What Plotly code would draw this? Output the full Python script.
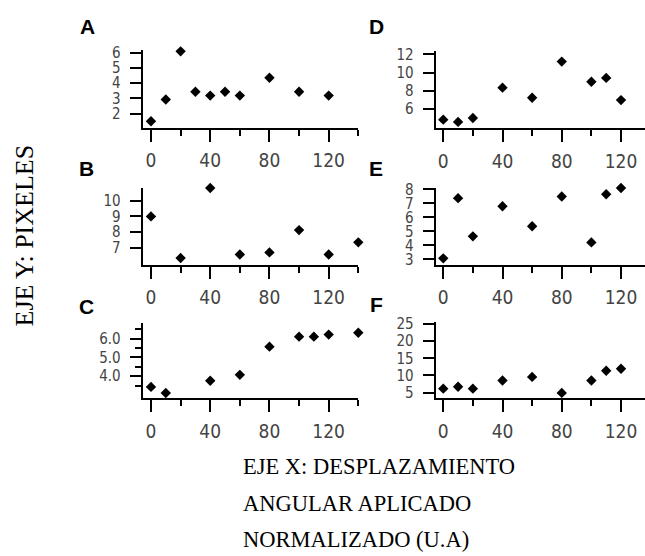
import plotly.graph_objects as go

# ---- data ----
x_A = [0, 10, 20, 30, 40, 50, 60, 80, 100, 120]
y_A = [1.49, 2.92, 6.09, 3.43, 3.18, 3.43, 3.18, 4.35, 3.43, 3.18]
x_B = [0, 20, 40, 60, 80, 100, 120, 140]
y_B = [9.0, 6.35, 10.81, 6.58, 6.71, 8.13, 6.58, 7.35]
x_C = [0, 10, 20, 40, 60, 80, 100, 110, 120, 140]
y_C = [3.43, 3.11, 6.85, 3.76, 4.07, 5.57, 6.10, 6.10, 6.21, 6.31]
x_D = [0, 10, 20, 40, 60, 80, 100, 110, 120, 140]
y_D = [4.86, 4.61, 5.04, 8.36, 7.25, 11.21, 9.0, 9.43, 7.0, 12.36]
x_E = [0, 10, 20, 40, 60, 80, 100, 110, 120, 140]
y_E = [3.07, 7.37, 4.64, 6.79, 5.36, 7.49, 4.21, 7.65, 8.09, 6.36]
x_F = [0, 10, 20, 40, 60, 80, 100, 110, 120, 140]
y_F = [6.14, 6.71, 6.14, 8.52, 9.57, 4.90, 8.52, 11.38, 11.95, 25.3]

x_ticks = [0, 40, 80, 120]
x_minor = [20, 60, 100, 140]
yt_A = [2, 3, 4, 5, 6]
yt_B = [7, 8, 9, 10]
yt_C = [4, 5, 6]
yt_C_text = ["4.0", "5.0", "6.0"]
yt_C_minor = [3.5, 4.5, 5.5, 6.5]
yt_D = [6, 8, 10, 12]
yt_E = [3, 4, 5, 6, 7, 8]
yt_F = [5, 10, 15, 20, 25]

panel_labels = ["A", "B", "C", "D", "E", "F"]
y_title = "EJE Y: PIXELES"
x_title_lines = ["EJE X: DESPLAZAMIENTO", "ANGULAR APLICADO", "NORMALIZADO (U.A)"]

W, H = 645, 556
NARROW = "Liberation Sans Narrow, Arial Narrow, DejaVu Sans Condensed, Liberation Sans, sans-serif"
XTICKFONT = dict(family=NARROW, size=19, color="#444")
YTICKFONT = dict(family=NARROW, size=15, color="#444")


def px_x(p):
    return p / W


def px_y(p):
    return 1 - p / H


def xax(d0, d1, rng, anchor):
    return dict(domain=[px_x(d0), px_x(d1)], range=rng, anchor=anchor,
                showline=True, linecolor="black", linewidth=2,
                ticks="outside", ticklen=12, tickwidth=2, tickcolor="black",
                tickvals=x_ticks, showgrid=False, zeroline=False,
                tickfont=XTICKFONT, ticklabelstandoff=3,
                minor=dict(tickvals=x_minor, ticks="outside", ticklen=6,
                           tickwidth=2, tickcolor="black", showgrid=False))


def yax(t0, t1, rng, anchor, tv, tt=None, mv=None):
    d = dict(domain=[px_y(t1), px_y(t0)], range=rng, anchor=anchor,
             showline=True, linecolor="black", linewidth=2,
             ticks="outside", ticklen=11, tickwidth=2, tickcolor="black",
             tickvals=tv, showgrid=False, zeroline=False,
             tickfont=YTICKFONT, ticklabelstandoff=6)
    if tt is not None:
        d["ticktext"] = tt
    if mv is not None:
        d["minor"] = dict(tickvals=mv, ticks="outside", ticklen=6,
                          tickwidth=2, tickcolor="black", showgrid=False)
    return d


fig = go.Figure()
series = [(x_A, y_A), (x_B, y_B), (x_C, y_C), (x_D, y_D), (x_E, y_E), (x_F, y_F)]
for i, (xs, ys) in enumerate(series):
    n = "" if i == 0 else str(i + 1)
    fig.add_trace(go.Scatter(x=xs, y=ys, mode="markers", xaxis="x" + n, yaxis="y" + n,
                             marker=dict(symbol="diamond", size=8, color="black"),
                             cliponaxis=False, showlegend=False, hoverinfo="x+y"))

LX0, LX1, LXR = 142.7, 358.3, [-5.6, 140]
RX0, RX1, RXR = 435.7, 645, [-5.1, 136.2]

fig.update_layout(
    width=W, height=H, margin=dict(l=0, r=0, t=0, b=0),
    paper_bgcolor="white", plot_bgcolor="white",
    xaxis=xax(LX0, LX1, LXR, "y"),
    yaxis=yax(44.3, 123, [1.08, 6.15], "x", yt_A),
    xaxis2=xax(LX0, LX1, LXR, "y2"),
    yaxis2=yax(184.3, 262.7, [5.94, 10.83], "x2", yt_B),
    xaxis3=xax(LX0, LX1, LXR, "y3"),
    yaxis3=yax(322.3, 399.3, [2.82, 6.83], "x3", yt_C, yt_C_text, yt_C_minor),
    xaxis4=xax(RX0, RX1, RXR, "y4"),
    yaxis4=yax(45, 123.3, [3.96, 12.36], "x4", yt_D),
    xaxis5=xax(RX0, RX1, RXR, "y5"),
    yaxis5=yax(184.3, 262.7, [2.63, 8.12], "x5", yt_E),
    xaxis6=xax(RX0, RX1, RXR, "y6"),
    yaxis6=yax(321.7, 399.3, [3.3, 25.5], "x6", yt_F),
)

ann = []
label_pos = [(87.5, 19.5), (86.5, 165), (86.5, 306), (377, 19.5), (376, 165), (376, 304)]
for lab, (cx, cy) in zip(panel_labels, label_pos):
    ann.append(dict(text="<b>%s</b>" % lab, x=px_x(cx), y=px_y(cy), xref="paper", yref="paper",
                    xanchor="center", yanchor="middle", showarrow=False,
                    font=dict(family="Liberation Sans, Arial, sans-serif", size=21, color="black")))

ann.append(dict(text=y_title, x=px_x(24), y=px_y(233), xref="paper", yref="paper",
                xanchor="center", yanchor="middle", textangle=-90, showarrow=False,
                font=dict(family="Liberation Serif, Times New Roman, serif", size=26, color="black")))
SERIF = dict(family="Liberation Serif, Times New Roman, serif", size=22.5, color="black")
for line, cy in zip(x_title_lines, [469, 507, 543]):
    ann.append(dict(text=line, x=px_x(241), y=px_y(cy), xref="paper", yref="paper",
                    xanchor="left", yanchor="middle", showarrow=False, font=SERIF))
fig.update_layout(annotations=ann)

fig.write_html("out.html", config={"displayModeBar": False},
               post_script="document.body.style.margin='0';document.body.style.overflow='hidden';")
